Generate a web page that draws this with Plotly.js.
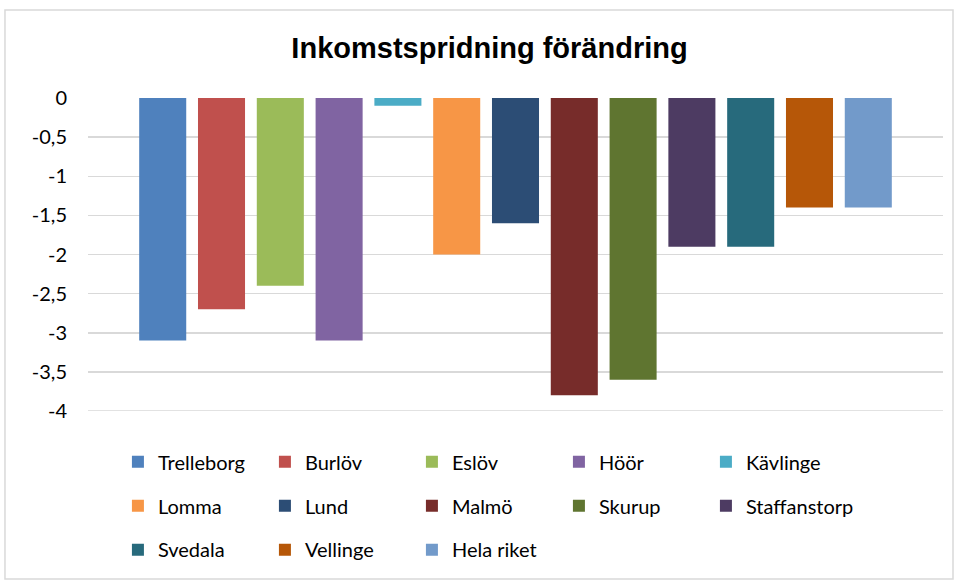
<!DOCTYPE html>
<html>
<head>
<meta charset="utf-8">
<script src="https://cdn.plot.ly/plotly-3.0.1.min.js"></script>
<style>html,body{margin:0;padding:0;background:#fff;}#chart{width:958px;height:580px;}</style>
</head>
<body>
<div id="chart"></div>
<script>
const names = ["Trelleborg","Burlöv","Eslöv","Höör","Kävlinge","Lomma","Lund","Malmö","Skurup","Staffanstorp","Svedala","Vellinge","Hela riket"];
const values = [-3.1,-2.7,-2.4,-3.1,-0.1,-2.0,-1.6,-3.8,-3.6,-1.9,-1.9,-1.4,-1.4];
const colors = ["#4F81BD","#C0504D","#9BBB59","#8064A2","#4BACC6","#F79646","#2C4D75","#772C2A","#5F7530","#4D3B62","#276A7C","#B65708","#729ACA"];
const category = ["Inkomstspridning"];
const yTicks = [0,-0.5,-1,-1.5,-2,-2.5,-3,-3.5,-4];

const legendIds = ['legend','legend2','legend3'];
const traces = names.map((n,i)=>({
  type:'bar', name:n, x:category, y:[values[i]],
  marker:{color:colors[i]}, hoverinfo:'name+y',
  legend: legendIds[Math.floor(i/5)]
}));

const font = "Lato, 'Open Sans', sans-serif";
const legendBase = (yv)=>({orientation:'h', x:0.035, xanchor:'left', y:yv, yanchor:'middle',
    entrywidth:102, entrywidthmode:'pixels', bgcolor:'rgba(0,0,0,0)', itemwidth:30,
    font:{family:font, size:20, color:'#000'}, traceorder:'normal'});
const layout = {
  width:958, height:580,
  margin:{l:88, r:15, t:98, b:169, autoexpand:false},
  paper_bgcolor:'#fff', plot_bgcolor:'#fff',
  separators:', ',
  barmode:'group', bargap:0.106, bargroupgap:0.2,
  title:{text:'<b>Inkomstspridning förändring</b>', x:0.511, xref:'container', y:0.917, yref:'container', yanchor:'middle',
    font:{family:"'Liberation Sans', Arial, sans-serif", size:29, color:'#000'}},
  xaxis:{showticklabels:false, showgrid:false, zeroline:false, showline:false, ticks:'', automargin:false},
  yaxis:{range:[-4,0], tickvals:yTicks, ticktext:yTicks.map(v=>String(v).replace('.',',')),
    showgrid:true, gridcolor:'#d9d9d9', gridwidth:1.5, zeroline:false, showline:false, ticks:'',
    ticklabelstandoff:20, automargin:false,
    tickfont:{family:font, size:20, color:'#000'}},
  showlegend:true,
  legend:legendBase(-0.162),
  legend2:legendBase(-0.303),
  legend3:legendBase(-0.443),
  shapes:[
    {type:'rect', xref:'paper', yref:'paper', x0:-0.0971, x1:1.0117, y0:-0.537, y1:1.2812,
      line:{color:'#d9d9d9', width:1.5}, fillcolor:'rgba(0,0,0,0)', layer:'below'},
    {type:'line', xref:'paper', yref:'y', x0:0, x1:1, y0:yTicks[yTicks.length-1], y1:yTicks[yTicks.length-1],
      line:{color:'#d9d9d9', width:1.5}, layer:'below'}
  ]
};
Plotly.newPlot('chart', traces, layout, {displayModeBar:false, staticPlot:true});
</script>
</body>
</html>
